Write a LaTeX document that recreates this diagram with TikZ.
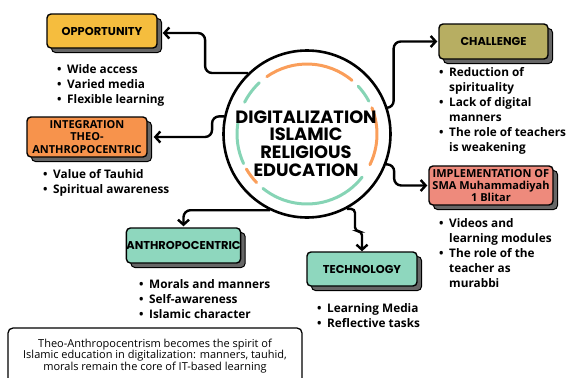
\documentclass[tikz,border=0pt]{standalone}
\usepackage{fontspec}
\setmainfont{Open Sans}
\newfontfamily\headfont{Poppins}
\usetikzlibrary{arrows.meta,shadows,calc}

\definecolor{cyellow}{HTML}{F5BD3E}
\definecolor{corange}{HTML}{F7934C}
\definecolor{colive}{HTML}{B7AE62}
\definecolor{csalmon}{HTML}{EE8A7C}
\definecolor{cmint}{HTML}{8ED7BE}
\definecolor{ringorange}{HTML}{FA9E5A}
\definecolor{ringteal}{HTML}{86D4B5}

\newcommand\itemmark{\makebox[10pt][l]{\textbullet}}
\newcommand\itemgap{\hspace*{10pt}}

\begin{document}
\begin{tikzpicture}[x=1pt,y=-1pt,
  tag/.style={draw=black, line width=1.4pt, rounded corners=4pt, inner sep=0pt, align=center,
    general shadow={shadow xshift=4.5pt, shadow yshift=-4.5pt, fill=black!60, draw=black, line width=1pt}},
  caps/.style={font=\headfont\bfseries\fontsize{11.4}{12}\selectfont},
  plain/.style={font=\bfseries\fontsize{11}{12.2}\selectfont},
  list/.style={anchor=north west, inner sep=0pt, align=left, font=\bfseries\fontsize{11.8}{15}\selectfont},
  link/.style={line width=2.4pt, rounded corners=7pt, -{Straight Barb[length=5pt,width=11pt]}},
  ring/.style={line width=3pt, line cap=round}
]
\useasboundingbox (0,0) rectangle (566,378);

% central hub
\node[circle, draw, line width=2.6pt, minimum size=167pt, inner sep=0pt] (hub) at (307,134) {};
\draw[ring, ringorange] ([shift={(-50:70)}]hub.center) arc[start angle=-50, end angle=-125, radius=70];
\draw[ring, ringteal]   ([shift={(-133:70)}]hub.center) arc[start angle=-133, end angle=-153, radius=70];
\draw[ring, ringteal]   ([shift={(-170:70)}]hub.center) arc[start angle=-170, end angle=-205, radius=70];
\draw[ring, ringorange] ([shift={(-210:70)}]hub.center) arc[start angle=-210, end angle=-224, radius=70];
\draw[ring, ringteal]   ([shift={(-231:70)}]hub.center) arc[start angle=-231, end angle=-322, radius=70];
\draw[ring, ringorange] ([shift={(26:70)}]hub.center) arc[start angle=26, end angle=-22, radius=70];
\draw[ring, ringteal]   ([shift={(-28:70)}]hub.center) arc[start angle=-28, end angle=-43, radius=70];
\node[align=center, inner sep=0pt, font=\headfont\bfseries\fontsize{17.8}{17.8}\selectfont] (title) at (306,143.5)
  {DIGITALIZATION\\ISLAMIC\\RELIGIOUS\\EDUCATION};

% topic boxes
\node[tag, fill=cyellow, caps, minimum width=110pt, minimum height=34pt] (opp) at (102,31) {OPPORTUNITY};
\node[tag, fill=corange, plain, minimum width=120pt, minimum height=40pt] (integ) at (87,137) {INTEGRATION\\THEO-\\ANTHROPOCENTRIC};
\node[tag, fill=colive, caps, minimum width=109pt, minimum height=35pt] (chal) at (493.5,41.5) {CHALLENGE};
\node[tag, fill=csalmon, plain, minimum width=124pt, minimum height=39pt] (impl) at (491,185.5) {IMPLEMENTATION OF\\SMA Muhammadiyah\\1 Blitar};
\node[tag, fill=cmint, caps, minimum width=111pt, minimum height=35pt] (anth) at (183.5,245.5) {ANTHROPOCENTRIC};
\node[tag, fill=cmint, caps, minimum width=110pt, minimum height=34pt] (tech) at (362,269) {TECHNOLOGY};

% connectors
\draw[link] (hub.134) -- ++(-43,0) |- ([xshift=5pt,yshift=-2pt]opp.east);
\draw[link] (hub.168) -- ++(-12,0) |- ([xshift=6pt]integ.east);
\draw[link] (hub.18) -- ++(6,0) |- ([xshift=-1pt]chal.west);
\draw[link] (hub.-21) -- ++(8,0) |- ([xshift=-1pt]impl.west);
\draw[link] (hub.244) -| ([yshift=1pt]anth.north);
\draw[link, rounded corners=4pt] (hub.-62) -| ($(tech.north)+(-7,-20)$) -| (tech.north);

% bullet lists
\node[list] (oppl) at (57,64.5) {\itemmark Wide access\\\itemmark Varied media\\\itemmark Flexible learning};
\node[list] (integl) at (43,169.5) {\itemmark Value of Tauhid\\\itemmark Spiritual awareness};
\node[list] (chall) at (439,67.5) {\itemmark Reduction of\\\itemgap spirituality\\\itemmark Lack of digital\\\itemgap manners\\\itemmark The role of teachers\\\itemgap is weakening};
\node[list] (impll) at (439,218.5) {\itemmark Videos and\\\itemgap learning modules\\\itemmark The role of the\\\itemgap teacher as\\\itemgap murabbi};
\node[list] (anthl) at (139,279.5) {\itemmark Morals and manners\\\itemmark Self-awareness\\\itemmark Islamic character};
\node[list] (techl) at (317,303.5) {\itemmark Learning Media\\\itemmark Reflective tasks};

% closing note
\node[draw, line width=1.3pt, rounded corners=5pt, minimum width=294pt, minimum height=56pt, align=center,
  font=\fontsize{11}{11.4}\selectfont] (note) at (155,356)
  {Theo-Anthropocentrism becomes the spirit of\\Islamic education in digitalization: manners, tauhid,\\morals remain the core of IT-based learning};
\end{tikzpicture}
\end{document}
